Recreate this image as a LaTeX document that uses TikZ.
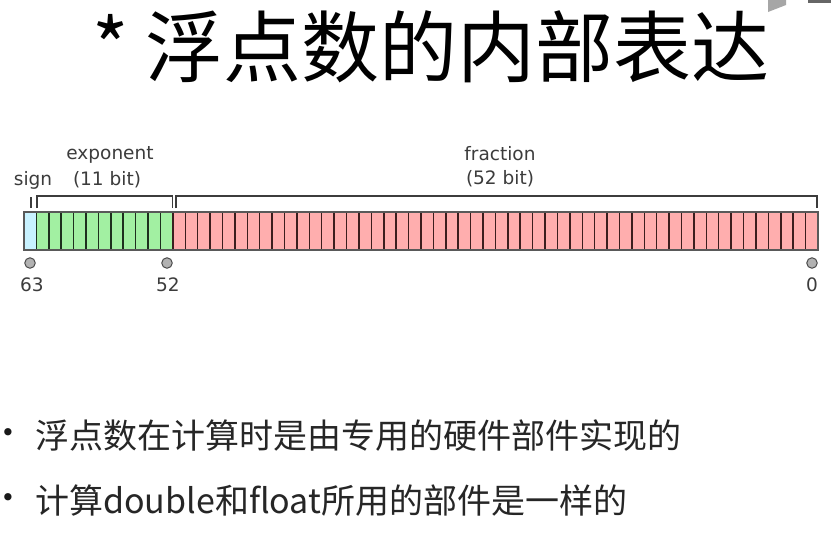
\documentclass[tikz,border=0pt]{standalone}
\usepackage{fontspec}
\newfontfamily\cjk{Noto Sans CJK SC}
\newfontfamily\dv{DejaVu Sans}
\definecolor{signc}{HTML}{C8F2FF}
\definecolor{expc}{HTML}{A2F0A2}
\definecolor{fracc}{HTML}{FFAEAE}
\definecolor{expline}{HTML}{1E301E}
\definecolor{fracline}{HTML}{3C1E1E}
\definecolor{labc}{HTML}{3C3C3C}
\tikzset{
  lab/.style={font=\dv\fontsize{18.5}{20}\selectfont, text=labc, inner sep=0pt},
  bitdot/.style={circle, draw=gray!60!black, fill=gray!60, line width=1pt, minimum size=10.5pt, inner sep=0pt},
  brk/.style={draw=labc, line width=1.1pt},
  bul/.style={font=\cjk\fontsize{34}{38}\selectfont, text=black!85, inner sep=0pt, anchor=west},
  bdot/.style={font=\dv\fontsize{25}{27}\selectfont, text=black!90, inner sep=0pt},
}
\begin{document}
\begin{tikzpicture}[x=1pt,y=-1pt]
\useasboundingbox (0,0) rectangle (831,536);
\fill[white] (0,0) rectangle (831,536);
% screen artifact top right
\fill[gray!70] (768,0) -- (786,0) -- (786,5) -- (768,12) -- cycle;
\fill[gray!80!black] (808,0) rectangle (831,3);
% title
\node[font=\cjk\fontsize{78}{82}\selectfont, inner sep=0pt] (title) at (431,47) {* 浮点数的内部表达};
% bit bar
\def\xo{24}
\def\cw{12.406}
\fill[signc] (\xo,212) rectangle ({\xo+\cw},250);
\fill[expc] ({\xo+\cw},212) rectangle ({\xo+12*\cw},250);
\fill[fracc] ({\xo+12*\cw},212) rectangle (818,250);
\foreach \i in {1,...,11} \draw[expline, line width=1.5pt] ({\xo+\i*\cw},212) -- ({\xo+\i*\cw},250);
\foreach \i in {12,...,63} \draw[fracline, line width=1.5pt] ({\xo+\i*\cw},212) -- ({\xo+\i*\cw},250);
\draw[gray!70!black, line width=1.4pt] (\xo,212) rectangle (818,250);
\node[inner sep=0pt] (bar) at (421,231) {};
% brackets
\draw[brk] (31,197) -- (31,208);
\draw[brk] (37,208) -- (37,196) -- (172.5,196) -- (172.5,208);
\draw[brk] (176,208) -- (176,196) -- (817,196) -- (817,208);
% labels
\node[lab] (sign) at (33,180) {sign};
\node[lab] (exp) at (110,155) {exponent};
\node[lab] (expb) at (107,180) {(11 bit)};
\node[lab] (frac) at (500,154) {fraction};
\node[lab] (fracb) at (500,179) {(52 bit)};
% bit positions
\node[bitdot] (d63) at (30,263) {};
\node[bitdot] (d52) at (167,263) {};
\node[bitdot] (d0) at (812,263) {};
\node[lab] (n63) at (32,285) {63};
\node[lab] (n52) at (168,285) {52};
\node[lab] (n0) at (812,285) {0};
% bullets
\node[bdot] (b1) at (8,435) {•};
\node[bul] (t1) at (35,436) {浮点数在计算时是由专用的硬件部件实现的};
\node[bdot] (b2) at (8,500) {•};
\node[bul] (t2) at (35,501) {计算double和float所用的部件是一样的};
\end{tikzpicture}
\end{document}
